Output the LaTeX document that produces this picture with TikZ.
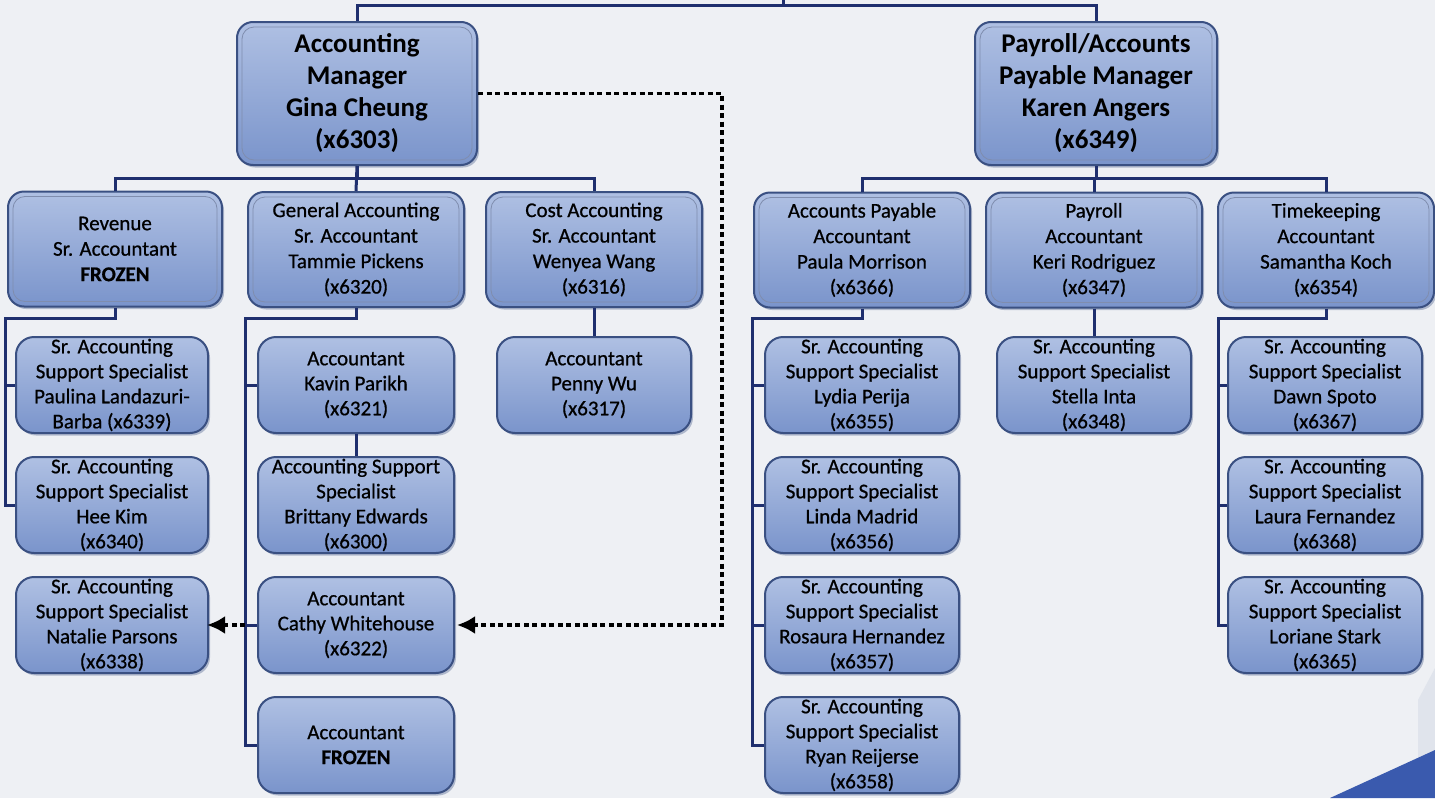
\documentclass[tikz,border=0pt]{standalone}
\usepackage{fontspec}
\setmainfont{Carlito}
\newfontfamily\semib{Carlito}[FakeBold=0.7]
\usetikzlibrary{arrows.meta,shadows,calc}
\definecolor{bg}{HTML}{EEF0F4}
\definecolor{boxtop}{HTML}{AFC0E3}
\definecolor{boxbot}{HTML}{7A94CB}
\definecolor{boxline}{HTML}{3A5082}
\definecolor{conn}{HTML}{1F2F6E}
\definecolor{decoblue}{HTML}{3A5AAE}
\definecolor{decolight}{HTML}{E0E4EC}
\begin{document}
\begin{tikzpicture}[x=1pt,y=-1pt,
  box/.style={rounded corners=16pt, draw=boxline, line width=2pt,
    top color=boxtop, bottom color=boxbot, align=center, text=black, inner sep=0pt,
    drop shadow={shadow xshift=2pt,shadow yshift=-2.5pt,opacity=0.35,fill=boxline}},
  innerline/.style={path picture={\draw[boxline!65, line width=0.8pt, rounded corners=12pt]
    ($(path picture bounding box.north west)+(5pt,-5pt)$) rectangle
    ($(path picture bounding box.south east)+(-5pt,5pt)$);}},
  mgr/.style={box, innerline, minimum width=240pt, minimum height=143pt,
    font=\fontsize{27}{32}\selectfont\bfseries},
  lvltwo/.style={box, innerline, minimum width=216pt, minimum height=115pt,
    font=\semib\fontsize{21}{25.5}\selectfont},
  lvlthree/.style={box, minimum width=194pt, minimum height=96pt, rounded corners=18pt,
    font=\semib\fontsize{21}{25}\selectfont},
  link/.style={draw=conn, line width=3pt},
  dotlink/.style={draw=black, line width=3.5pt, dash pattern=on 5pt off 3.5pt,
    -{Latex[length=18pt,width=18pt]}}
]
\useasboundingbox (0,0) rectangle (1435,798);
\fill[bg] (0,0) rectangle (1435,798);
\fill[decolight] (1418,700) -- (1435,668) -- (1435,752) -- (1418,760) -- cycle;
\fill[decoblue] (1330,798) -- (1435,750) -- (1435,798) -- cycle;

% managers
\node[mgr] (am) at (357,93.5) {Accounting\\Manager\\Gina Cheung\\(x6303)};
\node[mgr, minimum width=242pt] (pm) at (1096,93.5) {Payroll/Accounts\\Payable Manager\\Karen Angers\\(x6349)};

% level two
\node[lvltwo, minimum width=214pt] (rev) at (115,249) {Revenue\\Sr. Accountant\\\textbf{FROZEN}};
\node[lvltwo] (gen) at (356,249.5) {General Accounting\\Sr. Accountant\\Tammie Pickens\\(x6320)};
\node[lvltwo] (cost) at (594,249.5) {Cost Accounting\\Sr. Accountant\\Wenyea Wang\\(x6316)};
\node[lvltwo] (ap) at (862,250) {Accounts Payable\\Accountant\\Paula Morrison\\(x6366)};
\node[lvltwo] (pay) at (1094,250) {Payroll\\Accountant\\Keri Rodriguez\\(x6347)};
\node[lvltwo] (tk) at (1326,250) {Timekeeping\\Accountant\\Samantha Koch\\(x6354)};

% level three
\node[lvlthree, minimum width=192pt] (paul) at (112,385) {Sr. Accounting\\Support Specialist\\Paulina Landazuri-\\Barba (x6339)};
\node[lvlthree, minimum width=192pt] (hee) at (112,505) {Sr. Accounting\\Support Specialist\\Hee Kim\\(x6340)};
\node[lvlthree, minimum width=192pt] (nat) at (112,625) {Sr. Accounting\\Support Specialist\\Natalie Parsons\\(x6338)};

\node[lvlthree, minimum width=196pt] (kav) at (356,385) {Accountant\\Kavin Parikh\\(x6321)};
\node[lvlthree, minimum width=196pt] (brit) at (356,505) {Accounting Support\\Specialist\\Brittany Edwards\\(x6300)};
\node[lvlthree, minimum width=196pt] (cathy) at (356,625) {Accountant\\Cathy Whitehouse\\(x6322)};
\node[lvlthree, minimum width=196pt] (froz) at (356,745) {Accountant\\\textbf{FROZEN}};

\node[lvlthree] (penny) at (594,385) {Accountant\\Penny Wu\\(x6317)};

\node[lvlthree] (lydia) at (862,385) {Sr. Accounting\\Support Specialist\\Lydia Perija\\(x6355)};
\node[lvlthree] (linda) at (862,505) {Sr. Accounting\\Support Specialist\\Linda Madrid\\(x6356)};
\node[lvlthree] (rosa) at (862,625) {Sr. Accounting\\Support Specialist\\Rosaura Hernandez\\(x6357)};
\node[lvlthree] (ryan) at (862,745) {Sr. Accounting\\Support Specialist\\Ryan Reijerse\\(x6358)};

\node[lvlthree] (stella) at (1094,385) {Sr. Accounting\\Support Specialist\\Stella Inta\\(x6348)};

\node[lvlthree] (dawn) at (1325,385) {Sr. Accounting\\Support Specialist\\Dawn Spoto\\(x6367)};
\node[lvlthree] (laura) at (1325,505) {Sr. Accounting\\Support Specialist\\Laura Fernandez\\(x6368)};
\node[lvlthree] (lor) at (1325,625) {Sr. Accounting\\Support Specialist\\Loriane Stark\\(x6365)};

% bus coordinates
\coordinate (topbus) at (783,5);
\coordinate (topend) at (783,0);
\coordinate (revbus) at (5,318);
\coordinate (genbus) at (245,318);
\coordinate (apbus) at (752,318);
\coordinate (tkbus) at (1218,318);
\coordinate (dotx) at (722,0);

% top
\draw[link] (am.north) |- (topbus) -| (pm.north);
\draw[link] (topbus) -- (topend);
% accounting manager
\draw[link] (am.south) -- ++(0,12) -| (rev.north);
\draw[link] (am.south) -- ++(0,12) -| (cost.north);
\draw[link] (am.south) -- (gen.north);
% payroll manager
\draw[link] (pm.south) -- ++(0,12) -| (ap.north);
\draw[link] (pm.south) -- ++(0,12) -| (tk.north);
\draw[link] (pm.south) -- ++(0,12) -| (pay.north);
% revenue
\draw[link] (rev.south) |- (revbus) |- (hee.west);
\draw[link] (paul.west -| revbus) -- (paul.west);
% general
\draw[link] (gen.south) |- (genbus) |- (froz.west);
\draw[link] (kav.west -| genbus) -- (kav.west);
\draw[link] (cathy.west -| genbus) -- (cathy.west);
\draw[link] (kav.south) -- (brit.north);
% cost
\draw[link] (cost.south) -- (penny.north);
% accounts payable
\draw[link] (ap.south) |- (apbus) |- (ryan.west);
\draw[link] (lydia.west -| apbus) -- (lydia.west);
\draw[link] (linda.west -| apbus) -- (linda.west);
\draw[link] (rosa.west -| apbus) -- (rosa.west);
% payroll
\draw[link] (pay.south) -- (stella.north);
% timekeeping
\draw[link] (tk.south) |- (tkbus) |- (lor.west);
\draw[link] (dawn.west -| tkbus) -- (dawn.west);
\draw[link] (laura.west -| tkbus) -- (laura.west);

% dotted relations
\draw[dotlink] (am.east) -- (am.east -| dotx) |- ([xshift=2pt]cathy.east);
\draw[dotlink] (cathy.west -| genbus) -- ([xshift=-2pt]nat.east);
\end{tikzpicture}
\end{document}
